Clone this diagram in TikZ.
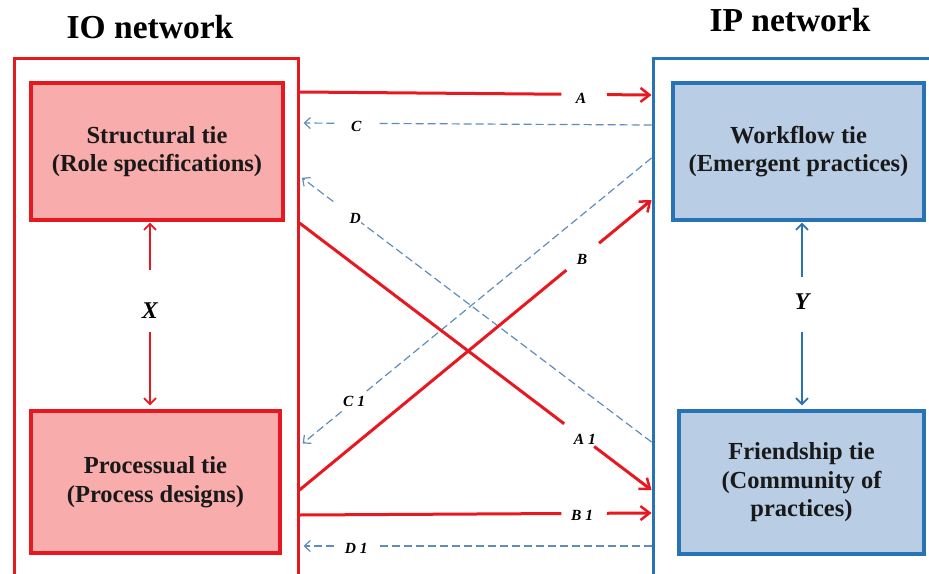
\documentclass[tikz,border=0pt]{standalone}
\usepackage{fontspec}
\setmainfont{Liberation Serif}
\usetikzlibrary{arrows.meta,calc}
\definecolor{ired}{RGB}{232,24,32}
\definecolor{ipink}{RGB}{248,172,172}
\definecolor{iblue}{RGB}{40,115,182}
\definecolor{ibfill}{RGB}{185,205,229}
\definecolor{idash}{RGB}{95,140,188}
\tikzset{
  outerred/.style={draw=ired,line width=3pt,minimum width=284pt,minimum height=542pt,inner sep=0pt},
  outerblue/.style={draw=iblue,line width=3pt,minimum width=307pt,minimum height=542pt,inner sep=0pt},
  redbox/.style={draw=ired,fill=ipink,line width=3.2pt,align=center,inner sep=0pt,text=black!90,font=\fontsize{24.5}{28.5}\selectfont\bfseries},
  bluebox/.style={draw=iblue,fill=ibfill,line width=3.2pt,align=center,inner sep=0pt,text=black!90,font=\fontsize{24.5}{28.5}\selectfont\bfseries},
  title/.style={font=\fontsize{33.5}{36}\selectfont\bfseries},
  redln/.style={draw=ired,line width=3pt},
  redarr/.style={redln,-{Straight Barb[length=9pt,width=14pt,line width=2.5pt]}},
  dashln/.style={draw=idash,line width=1.2pt,dash pattern=on 8pt off 4pt},
  dasharr/.style={dashln,-{Straight Barb[length=6pt,width=11pt,line width=1.2pt]}},
  lbl/.style={font=\fontsize{15.5}{17}\selectfont\bfseries\itshape},
  biglbl/.style={font=\fontsize{24}{26}\selectfont\bfseries\itshape},
  xarr/.style={draw=ired,line width=1.8pt,-{Straight Barb[length=6pt,width=12pt,line width=1.8pt]}},
  yarr/.style={draw=iblue,line width=1.8pt,-{Straight Barb[length=6pt,width=12pt,line width=1.8pt]}}
}
\begin{document}
\begin{tikzpicture}[x=1pt,y=-1pt]
\useasboundingbox (0,0) rectangle (929,573);
% titles
\node[title] (tio) at (150,27) {IO network};
\node[title] (tip) at (790,20) {IP network};
% outer boxes
\node[outerred] (io) at (156,329) {};
\node[outerblue] (ip) at (806.5,329) {};
% inner boxes
\node[redbox,minimum width=252pt,minimum height=137pt] (struct) at (157,151.5) {Structural tie\\(Role specifications)};
\node[redbox,minimum width=249pt,minimum height=142pt] (proc) at (155.5,482) {Processual tie\\(Process designs)};
\node[bluebox,minimum width=251pt,minimum height=137pt] (work) at (798.5,151.5) {Workflow tie\\(Emergent practices)};
\node[bluebox,minimum width=245pt,minimum height=143pt] (friend) at (801.5,482.5) {Friendship tie\\(Community of\\practices)};
% endpoints
\coordinate (a0) at (io.east |- 0,92);   \coordinate (a1) at (ip.west |- 0,95);
\coordinate (b10) at (io.east |- 0,515); \coordinate (b11) at (ip.west |- 0,513);
\coordinate (b0) at (io.east |- 0,490);  \coordinate (b1) at (ip.west |- 0,200);
\coordinate (a10) at (io.east |- 0,223); \coordinate (a11) at (ip.west |- 0,490);
\coordinate (c0) at (ip.west |- 0,125);  \coordinate (c1) at (io.east |- 0,123);
\coordinate (d10) at (ip.west |- 0,546); \coordinate (d11) at (io.east |- 0,546);
\coordinate (c10) at (ip.west |- 0,158); \coordinate (c11) at (io.east |- 0,446);
\coordinate (d0) at (ip.west |- 0,442);  \coordinate (d1) at (io.east |- 0,176);
% dashed blue connectors
\draw[dashln] (c0) -- ($(c0)!0.777!(c1)$);
\draw[dasharr,shorten >=4pt] ($(c0)!0.901!(c1)$) -- (c1);
\node[lbl] (lc) at ($(c0)!0.839!(c1)+(0,3)$) {C};
\draw[dashln] (d10) -- ($(d10)!0.777!(d11)$);
\draw[dasharr,shorten >=4pt] ($(d10)!0.901!(d11)$) -- (d11);
\node[lbl] (ld1) at ($(d10)!0.839!(d11)+(0,2)$) {D 1};
\draw[dashln] (c10) -- ($(c10)!0.81!(c11)$);
\draw[dasharr,shorten >=4pt] ($(c10)!0.88!(c11)$) -- (c11);
\node[lbl] (lc1) at ($(c10)!0.845!(c11)$) {C 1};
\draw[dashln] (d0) -- ($(d0)!0.825!(d1)$);
\draw[dasharr,shorten >=3pt] ($(d0)!0.904!(d1)$) -- (d1);
\node[lbl] (ld) at ($(d0)!0.842!(d1)$) {D};
% red connectors
\draw[redln] (a0) -- ($(a0)!0.744!(a1)$);
\draw[redarr] ($(a0)!0.873!(a1)$) -- (a1);
\node[lbl] (la) at ($(a0)!0.8!(a1)+(0,4)$) {A};
\draw[redln] (b10) -- ($(b10)!0.744!(b11)$);
\draw[redarr] ($(b10)!0.873!(b11)$) -- (b11);
\node[lbl] (lb1) at ($(b10)!0.803!(b11)+(0,2)$) {B 1};
\draw[redln] (b0) -- ($(b0)!0.758!(b1)$);
\draw[redarr] ($(b0)!0.851!(b1)$) -- (b1);
\node[lbl] (lb) at ($(b0)!0.803!(b1)+(0,2)$) {B};
\draw[redln] (a10) -- ($(a10)!0.752!(a11)$);
\draw[redarr] ($(a10)!0.837!(a11)$) -- (a11);
\node[lbl] (la1) at ($(a10)!0.811!(a11)$) {A 1};
% X and Y
\node[biglbl] (lx) at (150,311) {X};
\draw[xarr,shorten >=1pt] (lx.north |- 0,270) -- (lx.north |- struct.south);
\draw[xarr,shorten >=4pt] (lx.south |- 0,332) -- (lx.south |- proc.north);
\node[biglbl] (ly) at (802,302) {Y};
\draw[yarr,shorten >=1pt] (ly.north |- 0,277) -- (ly.north |- work.south);
\draw[yarr,shorten >=4pt] (ly.south |- 0,332) -- (ly.south |- friend.north);
\end{tikzpicture}
\end{document}
